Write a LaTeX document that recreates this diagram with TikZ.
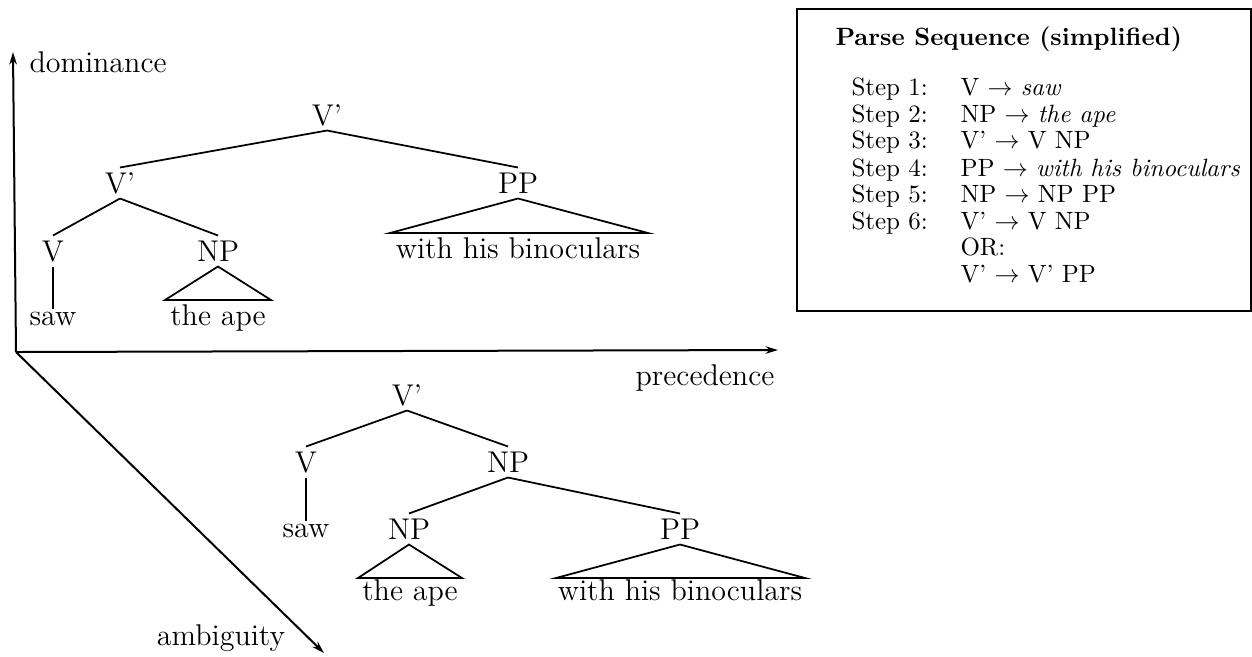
\documentclass[tikz,border=0pt]{standalone}
\usetikzlibrary{arrows.meta}
\begin{document}
\begin{tikzpicture}[x=0.4pt,y=-0.4pt,
  cat/.style={font=\fontsize{12}{14}\selectfont, inner sep=2pt, text height=8pt, text depth=0pt},
  word/.style={font=\fontsize{12}{14}\selectfont, inner sep=1pt, anchor=base},
  axlab/.style={font=\fontsize{12}{14}\selectfont, inner sep=0pt, anchor=base},
  branch/.style={line width=0.7pt},
  axis/.style={line width=0.8pt, -{Stealth[length=5pt,width=3pt]}},
  boxtxt/.style={font=\fontsize{10}{12}\selectfont, inner sep=0pt, anchor=base west}]
\useasboundingbox (0,0) rectangle (1252,656);

% axes
\coordinate (O) at (16,352);
\coordinate (dom) at (13,52);
\coordinate (prec) at (778,350);
\coordinate (amb) at (324,653);
\draw[axis] (O) -- (dom);
\draw[axis] (O) -- (prec);
\draw[axis] (O) -- (amb);
\node[axlab, anchor=base west] (ldom) at (29,72) {dominance};
\node[axlab] (lprec) at (705,385) {precedence};
\node[axlab] (lamb) at (221,645) {ambiguity};

% upper tree
\node[cat] (a1) at (327,115) {V'};
\node[cat] (a2) at (120,183) {V'};
\node[cat] (a5) at (518,183) {PP};
\node[cat] (a3) at (53,251) {V};
\node[cat] (a4) at (218,251) {NP};
\node[word] (w1) at (53,325) {saw};
\node[word] (w2) at (218,325) {the ape};
\node[word] (w3) at (518,258) {with his binoculars};
\draw[branch] (a1.south) -- (a2.north);
\draw[branch] (a1.south) -- (a5.north);
\draw[branch] (a2.south) -- (a3.north);
\draw[branch] (a2.south) -- (a4.north);
\draw[branch] (a3.south) -- (w1.north);
\coordinate (t1l) at (165,300);
\coordinate (t1r) at (271,300);
\draw[branch] (a4.south) -- (t1l) -- (t1r) -- cycle;
\coordinate (t2l) at (390,233);
\coordinate (t2r) at (648,233);
\draw[branch] (a5.south) -- (t2l) -- (t2r) -- cycle;

% lower tree
\node[cat] (b1) at (407,395) {V'};
\node[cat] (b2) at (306,462) {V};
\node[cat] (b3) at (508,462) {NP};
\node[cat] (b4) at (409,529) {NP};
\node[cat] (b5) at (680,529) {PP};
\node[word] (v1) at (306,537) {saw};
\node[word] (v2) at (410,600) {the ape};
\node[word] (v3) at (680,600) {with his binoculars};
\draw[branch] (b1.south) -- (b2.north);
\draw[branch] (b1.south) -- (b3.north);
\draw[branch] (b2.south) -- (v1.north);
\draw[branch] (b3.south) -- (b4.north);
\draw[branch] (b3.south) -- (b5.north);
\coordinate (t3l) at (358,578);
\coordinate (t3r) at (462,578);
\draw[branch] (b4.south) -- (t3l) -- (t3r) -- cycle;
\coordinate (t4l) at (556,578);
\coordinate (t4r) at (805,578);
\draw[branch] (b5.south) -- (t4l) -- (t4r) -- cycle;

% parse sequence box
\draw[line width=1pt] (797,9) rectangle (1251,311);
\node[boxtxt, font=\fontsize{10}{12}\selectfont\bfseries] (title) at (835,45) {Parse Sequence (simplified)};
\node[boxtxt] (s1) at (851,95) {Step 1:};
\node[boxtxt] (s2) at (851,122) {Step 2:};
\node[boxtxt] (s3) at (851,148) {Step 3:};
\node[boxtxt] (s4) at (851,176) {Step 4:};
\node[boxtxt] (s5) at (851,202) {Step 5:};
\node[boxtxt] (s6) at (851,229) {Step 6:};
\node[boxtxt] (r1) at (960,95) {V $\rightarrow$ \textit{saw}};
\node[boxtxt] (r2) at (960,122) {NP $\rightarrow$ \textit{the ape}};
\node[boxtxt] (r3) at (960,148) {V' $\rightarrow$ V NP};
\node[boxtxt] (r4) at (960,176) {PP $\rightarrow$ \textit{with his binoculars}};
\node[boxtxt] (r5) at (960,202) {NP $\rightarrow$ NP PP};
\node[boxtxt] (r6) at (960,229) {V' $\rightarrow$ V NP};
\node[boxtxt] (r7) at (960,255) {OR:};
\node[boxtxt] (r8) at (960,282) {V' $\rightarrow$ V' PP};
\end{tikzpicture}
\end{document}
